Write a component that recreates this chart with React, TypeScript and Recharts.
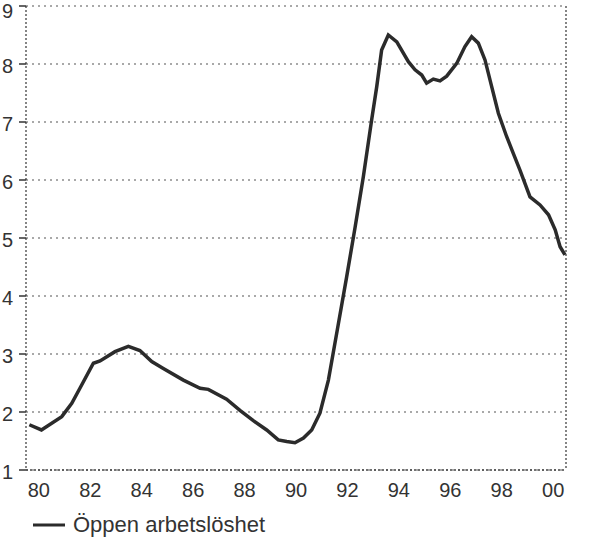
import React from 'react';
import { LineChart, Line, XAxis, YAxis, CartesianGrid, Legend } from 'recharts';

const years = [
  1980.13, 1980.6, 1981.39, 1981.78, 1982.17, 1982.62, 1982.88, 1983.46, 1983.98, 1984.43,
  1984.89, 1985.34, 1986.12, 1986.77, 1987.09, 1987.8, 1988.32, 1988.84, 1989.36, 1989.81,
  1990.14, 1990.46, 1990.79, 1991.11, 1991.43, 1991.76, 1992.1, 1992.47, 1992.8, 1993.12,
  1993.44, 1993.64, 1993.83, 1994.09, 1994.42, 1994.87, 1995.13, 1995.39, 1995.58, 1995.84,
  1996.1, 1996.36, 1996.75, 1997.07, 1997.33, 1997.59, 1997.85, 1998.11, 1998.37, 1998.69,
  1998.95, 1999.21, 1999.6, 1999.99, 2000.32, 2000.58, 2000.77, 2000.96,
];
const unemployment = [
  1.78, 1.69, 1.92, 2.15, 2.47, 2.84, 2.88, 3.04, 3.13, 3.06,
  2.87, 2.75, 2.55, 2.41, 2.39, 2.22, 2.03, 1.85, 1.69, 1.52,
  1.49, 1.47, 1.55, 1.69, 1.98, 2.55, 3.4, 4.33, 5.19, 6.06,
  7.03, 7.61, 8.24, 8.5, 8.38, 8.04, 7.9, 7.81, 7.67, 7.74,
  7.71, 7.79, 8.01, 8.3, 8.47, 8.36, 8.07, 7.61, 7.15, 6.75,
  6.46, 6.17, 5.71, 5.57, 5.4, 5.14, 4.85, 4.71,
];
const yearTicks = [
  1980, 1981, 1982, 1983, 1984, 1985, 1986, 1987, 1988, 1989, 1990,
  1991, 1992, 1993, 1994, 1995, 1996, 1997, 1998, 1999, 2000, 2001,
];
const labelTicks = [1980.5, 1982.5, 1984.5, 1986.5, 1988.5, 1990.5, 1992.5, 1994.5, 1996.5, 1998.5, 2000.5];
const yTicks = [1, 2, 3, 4, 5, 6, 7, 8, 9];
const seriesName = 'Öppen arbetslöshet';

const data = years.map((y, i) => ({ year: y, value: unemployment[i] }));

const FONT = '"Liberation Sans", Arial, sans-serif';
const TXT = '#333';
const LINE = '#2b2b2b';

const fmtYear = (v: number) => String(Math.floor(v) % 100).padStart(2, '0');

const YTick = (props: any) => {
  const { x, y, payload, textAnchor } = props;
  const isTop = payload.value === yTicks[yTicks.length - 1];
  return (
    <text
      x={x}
      y={y}
      dy={isTop ? 12 : 9}
      textAnchor={textAnchor}
      fill={TXT}
      fontSize={20}
      fontFamily={FONT}
    >
      {payload.value}
    </text>
  );
};

const LegendContent = () => (
  <div style={{ display: 'flex', alignItems: 'center', height: 30, paddingTop: 3, fontFamily: FONT, fontSize: 22, color: TXT, paddingLeft: 33 }}>
    <svg width={32} height={10} style={{ marginRight: 8 }}>
      <line x1={0} y1={5} x2={32} y2={5} stroke={LINE} strokeWidth={3} />
    </svg>
    <span>{seriesName}</span>
  </div>
);

export default function App() {
  return (
    <div style={{ position: 'absolute', left: 0, top: 0, background: '#fff' }}>
      <LineChart width={593} height={537} data={data} margin={{ top: 6, right: 0, bottom: 0, left: 0 }}>
        <CartesianGrid
          vertical={false}
          xAxisId="a"
          yAxisId="l"
          stroke="#555"
          strokeDasharray="2 4"
          strokeWidth={1.2}
        />
        <XAxis
          xAxisId="b"
          dataKey="year"
          type="number"
          domain={[1980, 2001]}
          ticks={labelTicks}
          tickFormatter={fmtYear}
          axisLine={false}
          tickLine={false}
          tickSize={0}
          tickMargin={6}
          height={30}
          interval={0}
          tick={{ fill: TXT, fontSize: 20, fontFamily: FONT }}
        />
        <XAxis
          xAxisId="a"
          dataKey="year"
          type="number"
          domain={[1980, 2001]}
          ticks={yearTicks}
          tick={false}
          tickSize={7}
          height={7}
          axisLine={{ stroke: '#444', strokeDasharray: '2 2', strokeWidth: 1.3 }}
          tickLine={{ stroke: '#333', strokeWidth: 1.5 }}
        />
        <YAxis
          yAxisId="l"
          domain={[1, 9]}
          ticks={yTicks}
          width={26}
          tickSize={7}
          tickMargin={6}
          interval={0}
          tick={<YTick />}
          axisLine={{ stroke: '#444', strokeDasharray: '2 2', strokeWidth: 1.3 }}
          tickLine={{ stroke: '#333', strokeWidth: 1.5 }}
        />
        <YAxis
          yAxisId="r"
          orientation="right"
          domain={[1, 9]}
          ticks={yTicks}
          width={27}
          tickSize={7}
          tickMargin={7}
          interval={0}
          tick={<YTick />}
          axisLine={{ stroke: '#444', strokeDasharray: '2 2', strokeWidth: 1.3 }}
          tickLine={{ stroke: '#333', strokeWidth: 1.5 }}
        />
        <Legend verticalAlign="bottom" align="left" height={30} content={<LegendContent />} />
        <Line
          xAxisId="a"
          yAxisId="l"
          type="linear"
          dataKey="value"
          name={seriesName}
          stroke={LINE}
          strokeWidth={3.5}
          dot={false}
          isAnimationActive={false}
        />
      </LineChart>
    </div>
  );
}
